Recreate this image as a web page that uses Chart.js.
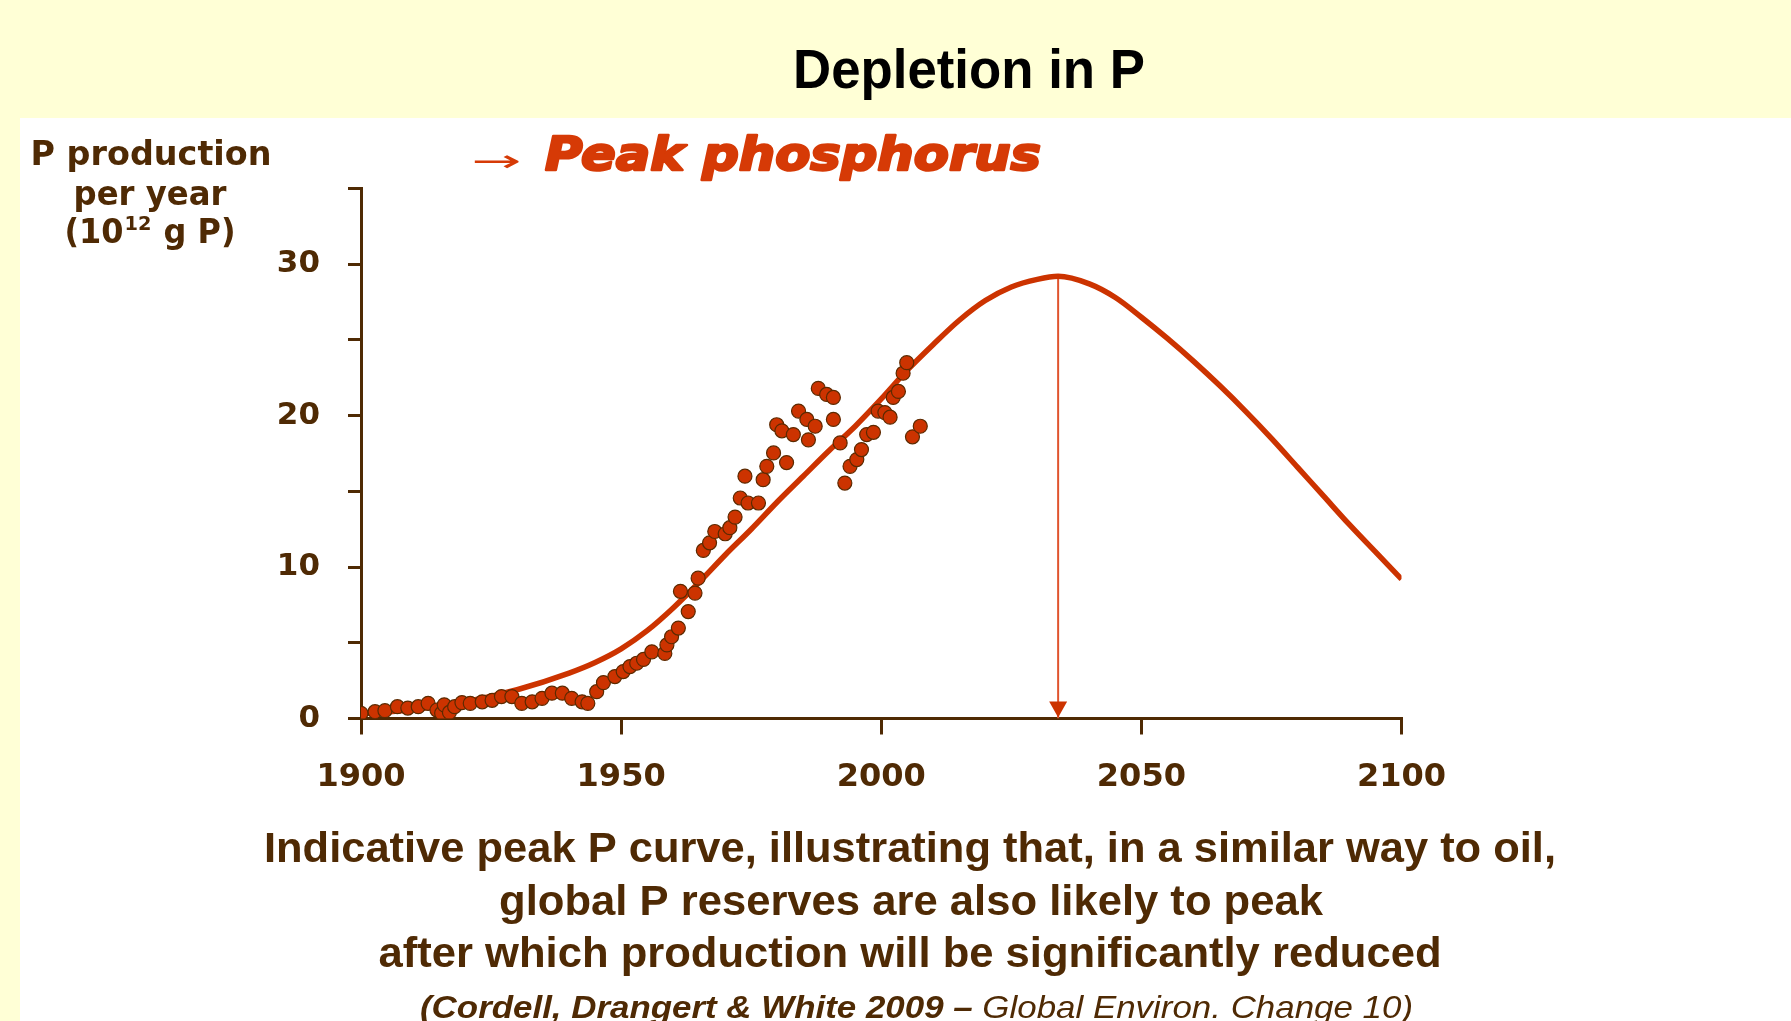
<!DOCTYPE html>
<html>
<head>
<meta charset="utf-8">
<title>Depletion in P</title>
<script src="https://cdn.jsdelivr.net/npm/chart.js@4.4.0/dist/chart.umd.min.js"></script>
<style>
  html, body { margin: 0; padding: 0; background: #ffffd6; }
  canvas { display: block; }
</style>
</head>
<body>
<canvas id="chart" width="1791" height="1021"></canvas>
<script>
// fitted "peak P" curve
const curveYears = [1900, 1910, 1920, 1930, 1940, 1945, 1950, 1955, 1960, 1965, 1970, 1975, 1980, 1985, 1990, 1995, 2000, 2005, 2010, 2015, 2020, 2025, 2030, 2034, 2040, 2045, 2050, 2055, 2060, 2065, 2070, 2075, 2080, 2085, 2090, 2095, 2100];
const curveValues = [0.3, 0.6, 1.1, 1.9, 3.0, 3.7, 4.6, 5.8, 7.3, 9.0, 10.8, 12.5, 14.3, 16.0, 17.7, 19.3, 21.1, 23.0, 24.7, 26.3, 27.6, 28.5, 29.0, 29.2, 28.7, 27.8, 26.5, 25.1, 23.6, 22.0, 20.3, 18.5, 16.6, 14.7, 12.8, 11.0, 9.2];

// historical production (dots)
const histYears = [1900, 1902.7, 1904.6, 1907, 1909, 1911, 1912.9, 1914.6, 1915.5, 1916, 1917, 1918, 1919.4, 1921, 1923.3, 1925.2, 1927, 1929, 1930.9, 1932.9, 1934.8, 1936.7, 1938.7, 1940.5, 1942.5, 1943.6, 1945.3, 1946.6, 1948.8, 1950.4, 1951.7, 1953, 1954.3, 1955.9, 1958.4, 1958.8, 1959.7, 1961, 1961.4, 1962.9, 1964.2, 1964.8, 1965.8, 1967, 1968, 1970, 1970.9, 1971.9, 1972.9, 1973.8, 1974.4, 1976.4, 1977.3, 1978, 1979.3, 1979.9, 1980.9, 1981.8, 1983.1, 1984.1, 1985.7, 1986, 1987.3, 1987.9, 1989.5, 1990.8, 1990.8, 1992.1, 1993, 1994, 1995.3, 1996.2, 1997.2, 1998.5, 1999.4, 2000.7, 2001.7, 2002.3, 2003.3, 2004.2, 2004.9, 2006, 2007.5];
const histValues = [0.34, 0.45, 0.52, 0.78, 0.69, 0.78, 1.0, 0.56, 0.35, 0.9, 0.4, 0.78, 1.05, 1.0, 1.1, 1.2, 1.45, 1.45, 1.0, 1.1, 1.33, 1.67, 1.67, 1.33, 1.1, 1.0, 1.77, 2.37, 2.77, 3.1, 3.43, 3.65, 3.9, 4.4, 4.3, 4.86, 5.4, 5.97, 8.4, 7.06, 8.28, 9.27, 11.1, 11.6, 12.35, 12.2, 12.6, 13.3, 14.56, 16.0, 14.23, 14.23, 15.77, 16.65, 17.54, 19.4, 19.0, 16.9, 18.75, 20.3, 19.75, 18.4, 19.3, 21.8, 21.4, 21.2, 19.75, 18.2, 15.55, 16.65, 17.1, 17.76, 18.75, 18.9, 20.3, 20.2, 19.9, 21.2, 21.6, 22.8, 23.5, 18.6, 19.3];

const peakYear = 2034;
const peakValue = 29.2;

const xTicks = [1900, 1950, 2000, 2050, 2100];
const yTicks = [0, 10, 20, 30];

const brown = "#4f2a04";
const red = "#cc3300";

function points(xs, ys) {
    return xs.map((x, i) => ({ x: x, y: ys[i] }));
}

// draw text squeezed/stretched to a given width
function fitText(ctx, text, x, y, width, align, stroke) {
    const w = ctx.measureText(text).width;
    ctx.save();
    ctx.translate(x, y);
    ctx.scale(width / w, 1);
    ctx.textAlign = align || "center";
    if (stroke) {
        ctx.lineWidth = stroke;
        ctx.lineJoin = "round";
        ctx.strokeStyle = ctx.fillStyle;
        ctx.strokeText(text, 0, 0);
    }
    ctx.fillText(text, 0, 0);
    ctx.restore();
}

const decor = {
    id: "decor",
    beforeDraw(chart) {
        const ctx = chart.ctx;
        ctx.save();
        ctx.fillStyle = "#ffffd6";
        ctx.fillRect(0, 0, chart.width, chart.height);
        ctx.fillStyle = "#ffffff";
        ctx.fillRect(20, 118, chart.width - 20, chart.height - 118);
        ctx.restore();
    },
    afterDatasetsDraw(chart) {
        // arrow head at the foot of the peak line
        const ctx = chart.ctx;
        const px = chart.scales.x.getPixelForValue(peakYear);
        const py = chart.scales.y.getPixelForValue(0);
        ctx.save();
        ctx.fillStyle = red;
        ctx.beginPath();
        ctx.moveTo(px - 9, py - 17);
        ctx.lineTo(px + 9, py - 17);
        ctx.lineTo(px, py - 1);
        ctx.closePath();
        ctx.fill();
        ctx.restore();
    },
    afterDraw(chart) {
        const ctx = chart.ctx;
        ctx.save();
        ctx.textBaseline = "alphabetic";

        // title
        ctx.fillStyle = "#000000";
        ctx.font = "bold 56px 'Liberation Sans', Arial, sans-serif";
        fitText(ctx, "Depletion in P", 969, 88, 352);

        // y axis title
        ctx.fillStyle = brown;
        ctx.font = "bold 33px 'DejaVu Sans', sans-serif";
        fitText(ctx, "P production", 151, 165, 241);
        fitText(ctx, "per year", 150, 205, 153);

        const big = "bold 33px 'DejaVu Sans', sans-serif";
        const small = "bold 20px 'DejaVu Sans', sans-serif";
        ctx.font = big;
        const a = ctx.measureText("(10").width;
        const c = ctx.measureText(" g P)").width;
        ctx.font = small;
        const b = ctx.measureText("12").width + 2;
        const total = a + b + c;
        const sx = 171 / total;
        ctx.save();
        ctx.translate(150 - 171 / 2, 243);
        ctx.scale(sx, 1);
        ctx.textAlign = "left";
        ctx.font = big;
        ctx.fillText("(10", 0, 0);
        ctx.font = small;
        ctx.fillText("12", a + 1, -13);
        ctx.font = big;
        ctx.fillText(" g P)", a + b, 0);
        ctx.restore();

        // peak phosphorus heading
        ctx.fillStyle = "#d63a06";
        ctx.font = "30px 'DejaVu Sans', sans-serif";
        fitText(ctx, "\u2192", 496, 171, 50);
        ctx.font = "italic bold 46px 'DejaVu Sans', sans-serif";
        fitText(ctx, "Peak phosphorus", 545, 170, 496, "left", 2.5);

        // caption
        ctx.fillStyle = brown;
        ctx.font = "bold 43px 'Liberation Sans', Arial, sans-serif";
        fitText(ctx, "Indicative peak P curve, illustrating that, in a similar way to oil,", 910, 862, 1292);
        fitText(ctx, "global P reserves are also likely to peak", 911, 915, 824);
        fitText(ctx, "after which production will be significantly reduced", 910, 967, 1063);

        // reference line, bold italic + italic
        const f1 = "italic bold 32px 'Liberation Sans', Arial, sans-serif";
        const f2 = "italic 32px 'Liberation Sans', Arial, sans-serif";
        const t1 = "(Cordell, Drangert & White 2009 \u2013 ";
        const t2 = "Global Environ. Change 10)";
        ctx.font = f1;
        const w1 = ctx.measureText(t1).width;
        ctx.font = f2;
        const w2 = ctx.measureText(t2).width;
        const s = 993 / (w1 + w2);
        ctx.save();
        ctx.translate(420, 1018);
        ctx.scale(s, 1);
        ctx.textAlign = "left";
        ctx.font = f1;
        ctx.fillText(t1, 0, 0);
        ctx.font = f2;
        ctx.fillText(t2, w1, 0);
        ctx.restore();

        ctx.restore();
    }
};

const ctx = document.getElementById("chart").getContext("2d");
new Chart(ctx, {
    type: "scatter",
    data: {
        datasets: [
            {
                label: "production",
                data: points(histYears, histValues),
                backgroundColor: red,
                borderColor: "#5c2a00",
                borderWidth: 1.2,
                pointRadius: 7,
                order: 0
            },
            {
                type: "line",
                label: "peak curve",
                data: points(curveYears, curveValues),
                borderColor: red,
                borderWidth: 5.5,
                pointRadius: 0,
                fill: false,
                cubicInterpolationMode: "monotone",
                order: 1
            },
            {
                type: "line",
                label: "peak",
                data: points([peakYear, peakYear], [peakValue, 0]),
                borderColor: "#e0542e",
                borderWidth: 2,
                pointRadius: 0,
                fill: false,
                order: 2
            }
        ]
    },
    options: {
        responsive: false,
        animation: false,
        devicePixelRatio: 1,
        layout: {
            padding: { left: 241, right: 389.5, top: 188.5, bottom: 222.5 }
        },
        plugins: {
            legend: { display: false },
            tooltip: { enabled: false },
            title: { display: false }
        },
        scales: {
            x: {
                type: "linear",
                min: xTicks[0],
                max: xTicks[xTicks.length - 1],
                afterFit: (scale) => { scale.height = 80; },
                afterBuildTicks: (scale) => { scale.ticks = xTicks.map(v => ({ value: v })); },
                ticks: {
                    color: brown,
                    padding: 24,
                    maxRotation: 0,
                    font: { family: "'DejaVu Sans'", weight: "bold", size: 32 },
                    callback: (v) => String(v)
                },
                grid: {
                    drawOnChartArea: false,
                    drawTicks: true,
                    tickLength: 16,
                    color: brown,
                    lineWidth: 3
                },
                border: { display: true, color: brown, width: 3 }
            },
            y: {
                min: 0,
                max: 35,
                afterFit: (scale) => { scale.width = 120; },
                ticks: {
                    stepSize: 5,
                    color: brown,
                    padding: 28,
                    font: { family: "'DejaVu Sans'", weight: "bold", size: 31 },
                    callback: (v) => (yTicks.includes(v) ? String(v) : "")
                },
                grid: {
                    drawOnChartArea: false,
                    drawTicks: true,
                    tickLength: 13,
                    color: brown,
                    lineWidth: 3
                },
                border: { display: true, color: brown, width: 3 }
            }
        }
    },
    plugins: [decor]
});
</script>
</body>
</html>
